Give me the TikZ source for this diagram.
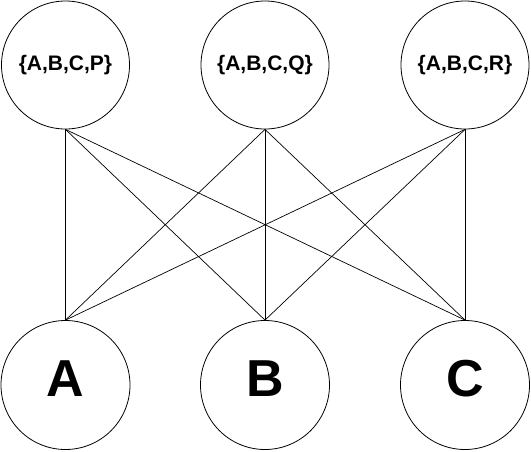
\documentclass[tikz,border=0pt]{standalone}
\usepackage{fontspec}
\setmainfont{Liberation Sans}
\begin{document}
\begin{tikzpicture}[x=1pt,y=-1pt,
  setnode/.style={circle,draw,line width=0.8pt,minimum size=128pt,inner sep=0pt,font=\fontsize{21}{25}\selectfont\bfseries},
  letnode/.style={circle,draw,line width=0.8pt,minimum size=129pt,inner sep=0pt},
  lettext/.style={inner sep=0pt,font=\fontsize{52}{60}\selectfont\bfseries},
  link/.style={line width=0.7pt}]
\useasboundingbox (0,0) rectangle (531,451);
\node[setnode] (P) at (65.5,65) {\{A,B,C,P\}};
\node[setnode] (Q) at (265,65) {\{A,B,C,Q\}};
\node[setnode] (R) at (465,65) {\{A,B,C,R\}};
\node[letnode] (A) at (65.5,385) {};
\node[letnode] (B) at (265,385) {};
\node[letnode] (C) at (465,385) {};
\node[lettext,yshift=6pt] (At) at (A.center) {A};
\node[lettext,yshift=6pt] (Bt) at (B.center) {B};
\node[lettext,yshift=6pt] (Ct) at (C.center) {C};
\foreach \t in {P,Q,R}
  \foreach \b in {A,B,C}
    \draw[link] (\t.south) -- (\b.north);
\end{tikzpicture}
\end{document}
